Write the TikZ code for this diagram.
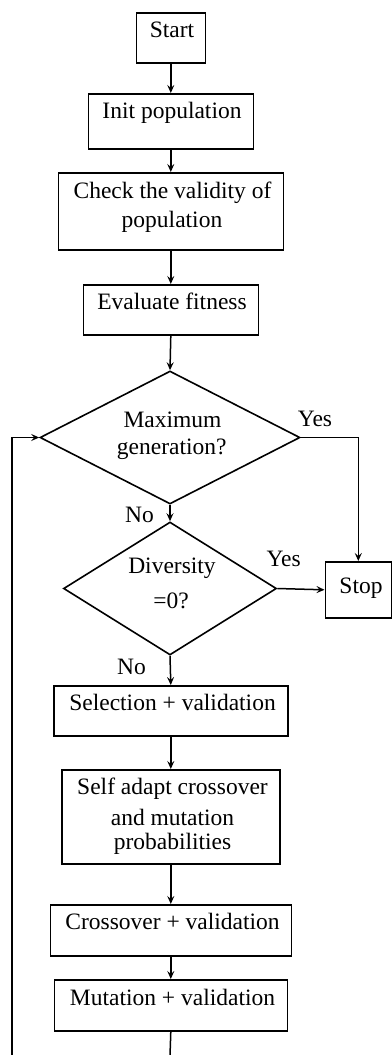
\documentclass[tikz,border=0pt]{standalone}
\usepackage{fontspec}
\setmainfont{Liberation Serif}
\usetikzlibrary{shapes.geometric,arrows.meta}
\begin{document}
\begin{tikzpicture}[x=1pt,y=-1pt,
  box/.style={draw,line width=1.6pt,rectangle,inner sep=0pt,anchor=north west},
  dia/.style={draw,line width=1.6pt,diamond,inner sep=0pt,shape aspect=1.9},
  txt/.style={anchor=base,inner sep=0pt,font=\fontsize{23.5}{28}\selectfont},
  arr/.style={line width=1.5pt,-{Stealth[length=8pt,width=7pt,inset=3pt]}},
  ln/.style={line width=1.5pt}]
\useasboundingbox (0,0) rectangle (391,1055);
% boxes
\node[box,minimum width=69pt,minimum height=50pt] (start) at (135.5,12) {};
\node[box,minimum width=165pt,minimum height=55pt] (init) at (87.5,93) {};
\node[box,minimum width=225pt,minimum height=77pt] (check) at (57.5,172) {};
\node[box,minimum width=175pt,minimum height=50pt] (eval) at (82.5,284) {};
\node[dia,minimum width=260pt,minimum height=133pt] (max) at (170,437.5) {};
\node[dia,minimum width=213pt,minimum height=133pt] (div) at (170,588.5) {};
\node[box,minimum width=66pt,minimum height=56pt] (stop) at (324.5,561) {};
\node[box,minimum width=234pt,minimum height=50pt] (sel) at (53,685) {};
\node[box,minimum width=218pt,minimum height=94pt] (self) at (61,769) {};
\node[box,minimum width=241pt,minimum height=51pt] (cross) at (49.5,904) {};
\node[box,minimum width=233pt,minimum height=51pt] (mut) at (53.5,979) {};
% texts
\node[txt] (tstart) at (172,37.3) {Start};
\node[txt] (tinit) at (172,118) {Init population};
\node[txt] (tcheck1) at (172.5,198) {Check the validity of};
\node[txt] (tcheck2) at (172,227.5) {population};
\node[txt] (teval) at (172,309) {Evaluate fitness};
\node[txt] (tmax1) at (172.5,427.7) {Maximum};
\node[txt] (tmax2) at (171.7,454) {generation?};
\node[txt] (tyes1) at (315,426) {Yes};
\node[txt] (tno1) at (139.5,522) {No};
\node[txt] (tdiv1) at (172,573) {Diversity};
\node[txt] (tdiv2) at (171,608.5) {=0?};
\node[txt] (tyes2) at (283.7,566.6) {Yes};
\node[txt] (tstop) at (361,593) {Stop};
\node[txt] (tno2) at (131.5,674) {No};
\node[txt] (tsel) at (172.5,710.6) {Selection + validation};
\node[txt] (tself1) at (172.5,794.3) {Self adapt crossover};
\node[txt] (tself2) at (172.5,825) {and mutation};
\node[txt] (tself3) at (172.5,849) {probabilities};
\node[txt] (tcross) at (172.5,929) {Crossover + validation};
\node[txt] (tmut) at (172.5,1005.6) {Mutation + validation};
% connectors
\draw[arr] (start.south) -- (init.north);
\draw[arr] (init.south) -- (check.north);
\draw[arr] (check.south) -- (eval.north);
\draw[arr] (eval.south) -- (max.north);
\draw[arr] (max.south) -- (div.north);
\draw[arr] (max.east) -| (stop.north);
\draw[arr] (div.east) -- (stop.west);
\draw[arr] (div.south) -- (sel.north);
\draw[arr] (sel.south) -- (self.north);
\draw[arr] (self.south) -- (cross.north);
\draw[arr] (cross.south) -- (mut.north);
\coordinate (botc) at (170,1056);
\coordinate (botl) at (12,1056);
\draw[ln] (mut.south) -- (botc);
\draw[arr] (botl) |- (max.west);
\end{tikzpicture}
\end{document}
